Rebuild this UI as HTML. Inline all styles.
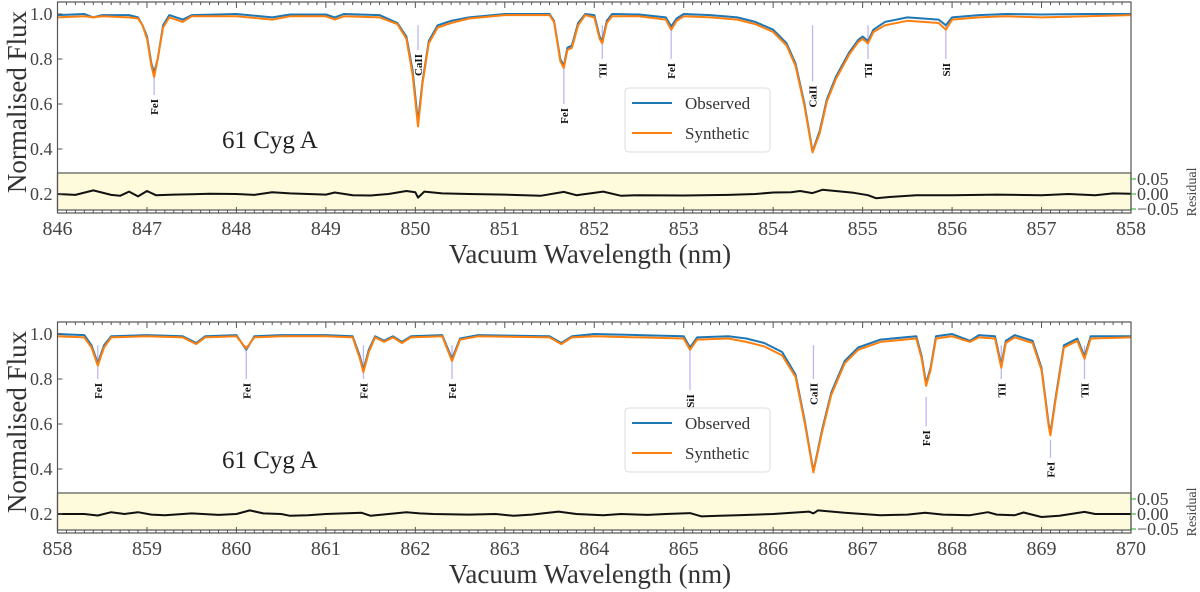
<!DOCTYPE html>
<html><head><meta charset="utf-8"><style>
html,body{margin:0;padding:0;background:#fff;}
svg{display:block;font-family:"Liberation Serif",serif;}
</style></head><body>
<svg id="fig" width="1200" height="592" viewBox="0 0 1200 592"></svg>
<script>
// ---------- data ----------
const topWl  = [846.0,846.3,846.4,846.5,846.8,846.9,846.95,847.0,847.05,847.08,847.12,847.18,847.25,847.4,847.5,848.0,848.4,848.6,849.0,849.1,849.2,849.6,849.8,849.9,849.97,850.03,850.08,850.15,850.25,850.4,850.6,851.0,851.5,851.55,851.62,851.66,851.7,851.75,851.82,851.9,852.0,852.06,852.09,852.14,852.2,852.5,852.8,852.86,852.92,853.0,853.3,853.6,853.8,854.0,854.15,854.25,854.35,854.44,854.52,854.6,854.7,854.85,854.95,855.0,855.06,855.12,855.25,855.5,855.85,855.93,856.0,856.3,856.6,857.0,857.5,858.0];
const topObs = [0.995,1.0,0.985,0.995,0.995,0.985,0.95,0.9,0.78,0.74,0.8,0.95,0.995,0.975,0.995,1.0,0.985,0.998,0.998,0.985,1.0,0.995,0.96,0.9,0.75,0.52,0.7,0.88,0.95,0.97,0.985,1.0,1.0,0.97,0.8,0.77,0.85,0.86,0.96,1.0,0.995,0.9,0.88,0.97,1.0,0.998,0.985,0.945,0.98,1.0,0.995,0.985,0.965,0.93,0.87,0.78,0.6,0.39,0.48,0.62,0.72,0.83,0.885,0.9,0.88,0.93,0.965,0.985,0.975,0.95,0.985,0.995,1.0,0.998,1.0,1.0];
const topSyn = [0.985,0.99,0.985,0.99,0.985,0.98,0.95,0.89,0.77,0.72,0.8,0.94,0.985,0.965,0.99,0.99,0.975,0.99,0.99,0.975,0.99,0.985,0.955,0.89,0.73,0.5,0.69,0.87,0.94,0.96,0.98,0.995,0.995,0.965,0.79,0.76,0.84,0.85,0.95,0.995,0.985,0.89,0.87,0.96,0.99,0.99,0.975,0.93,0.97,0.99,0.985,0.975,0.955,0.92,0.86,0.77,0.59,0.385,0.47,0.61,0.71,0.82,0.875,0.89,0.87,0.92,0.95,0.97,0.96,0.93,0.975,0.985,0.99,0.985,0.99,0.995];
const topResWl = [846.0,846.2,846.4,846.6,846.7,846.8,846.9,847.0,847.1,847.3,847.5,847.7,848.0,848.2,848.4,848.6,848.8,849.0,849.1,849.3,849.5,849.7,849.9,850.0,850.03,850.1,850.3,850.6,851.0,851.4,851.66,851.8,852.1,852.3,852.5,853.0,853.5,853.8,854.0,854.2,854.3,854.44,854.55,854.9,855.06,855.15,855.3,855.6,856.0,856.5,857.0,857.3,857.6,857.8,858.0];
const topRes = [0.0,-0.003,0.012,-0.003,-0.006,0.008,-0.008,0.01,-0.004,-0.002,-0.001,0.001,0.0,-0.003,0.006,0.002,0.0,-0.002,0.005,-0.004,-0.005,0.0,0.01,0.006,-0.012,0.008,0.002,0.0,-0.002,-0.006,0.007,-0.004,0.008,-0.006,-0.004,-0.005,-0.003,0.0,0.005,0.006,0.01,0.003,0.014,0.004,-0.004,-0.014,-0.01,-0.004,-0.004,-0.002,-0.004,0.0,-0.004,0.002,0.001];
const botWl  = [858.0,858.3,858.38,858.45,858.52,858.6,859.0,859.4,859.55,859.65,860.0,860.11,860.2,860.5,861.0,861.3,861.38,861.42,861.48,861.55,861.65,861.75,861.85,861.95,862.3,862.41,862.5,862.7,863.5,863.63,863.75,864.0,864.5,865.0,865.07,865.15,865.5,865.7,865.9,866.1,866.25,866.35,866.45,866.55,866.65,866.8,866.95,867.2,867.6,867.66,867.71,867.76,867.82,868.0,868.2,868.3,868.48,868.55,868.6,868.7,868.9,869.0,869.08,869.1,869.15,869.25,869.4,869.48,869.55,870.0];
const botObs = [1.0,0.995,0.95,0.87,0.95,0.99,0.995,0.99,0.96,0.99,0.995,0.93,0.99,0.995,0.995,0.99,0.9,0.84,0.93,0.99,0.97,0.99,0.965,0.99,0.995,0.89,0.98,0.995,0.99,0.96,0.99,1.0,0.995,0.99,0.94,0.985,0.99,0.98,0.96,0.92,0.82,0.62,0.39,0.58,0.74,0.88,0.94,0.975,0.99,0.9,0.78,0.85,0.99,1.0,0.97,0.995,0.99,0.86,0.97,0.995,0.97,0.85,0.6,0.56,0.7,0.95,0.98,0.9,0.99,0.99];
const botSyn = [0.99,0.985,0.94,0.86,0.94,0.985,0.99,0.985,0.955,0.985,0.99,0.935,0.985,0.99,0.99,0.985,0.89,0.83,0.92,0.985,0.965,0.985,0.96,0.985,0.99,0.88,0.975,0.99,0.985,0.955,0.985,0.99,0.985,0.98,0.93,0.975,0.98,0.965,0.945,0.905,0.81,0.61,0.385,0.57,0.73,0.87,0.93,0.965,0.98,0.89,0.77,0.84,0.98,0.99,0.965,0.985,0.98,0.85,0.96,0.985,0.96,0.84,0.59,0.55,0.69,0.94,0.97,0.89,0.98,0.985];
const botResWl = [858.0,858.3,858.45,858.6,858.75,858.9,859.05,859.2,859.5,859.8,860.0,860.15,860.3,860.5,860.6,860.8,861.0,861.2,861.4,861.5,861.7,861.9,862.05,862.2,862.6,862.9,863.1,863.3,863.6,863.8,864.1,864.3,864.6,864.8,865.07,865.2,865.4,865.6,866.0,866.4,866.45,866.5,866.8,867.2,867.5,867.7,867.9,868.2,868.4,868.5,868.7,868.8,869.0,869.2,869.48,869.6,870.0];
const botRes = [0.0,0.0,-0.005,0.006,0.0,0.006,-0.002,-0.004,0.002,-0.003,0.0,0.012,0.002,0.0,-0.006,-0.004,0.0,0.002,0.004,-0.006,0.0,0.006,0.002,0.0,-0.002,0.0,-0.006,-0.002,0.008,0.0,-0.004,0.0,-0.003,0.0,0.003,-0.008,-0.006,-0.004,0.0,0.008,0.002,0.012,0.004,-0.004,-0.002,0.004,-0.002,-0.004,0.006,-0.002,-0.004,0.005,-0.01,-0.006,0.007,0.0,0.0];
const topLines = ["FeI","CaII","FeI","TiI","FeI","CaII","TiI","SiI"];
const topLineWl = [847.08,850.03,851.66,852.09,852.86,854.44,855.06,855.93];
const topLineTop = [0.72,0.95,0.76,0.95,0.93,0.95,0.95,0.95];
const topLineBot = [0.64,0.84,0.6,0.8,0.8,0.7,0.8,0.8];
const botLines = ["FeI","FeI","FeI","FeI","SiI","CaII","FeI","TiI","FeI","TiI"];
const botLineWl = [858.45,860.11,861.42,862.41,865.07,866.45,867.71,868.55,869.10,869.48];
const botLineTop = [0.95,0.95,0.95,0.95,0.95,0.95,0.72,0.95,0.53,0.95];
const botLineBot = [0.8,0.8,0.8,0.8,0.75,0.8,0.59,0.8,0.45,0.8];
const yTicks = [0.2,0.4,0.6,0.8,1.0];
const resTicks = [0.05,0.0,-0.05];
// ---------- drawing ----------
const NS="http://www.w3.org/2000/svg";
const svg=document.getElementById('fig');
function mk(tag,attrs,parent){const e=document.createElementNS(NS,tag);for(const k in attrs)e.setAttribute(k,attrs[k]);(parent||svg).appendChild(e);return e;}
function panel(cfg){
  const L=57.5,R=1131,T=cfg.off+2,B=cfg.off+213;
  const x=w=>L+(w-cfg.x0)/(cfg.x1-cfg.x0)*(R-L);
  const y=v=>cfg.off+14+(1-v)*225;
  const yr=r=>cfg.off+194-r*300;
  const g=mk('g',{});
  
  
  const band=mk('rect',{x:L,y:cfg.off+173,width:R-L,height:37,fill:'#fdfbdb',stroke:'#555','stroke-width':1.2},g);
  
  
  cfg.lines.forEach((nm,i)=>{
    const lx=x(cfg.lineWl[i]);
    const ln=mk('line',{x1:lx,x2:lx,y1:y(cfg.lineTop[i]),y2:y(cfg.lineBot[i]),stroke:'#b8b8f5','stroke-width':1.3},g);
    
    
    const ty=y(cfg.lineBot[i])+4;
    const t=mk('text',{x:0,y:0,transform:`translate(${lx+4},${ty}) rotate(-90)`,'text-anchor':'end','font-size':11,'font-weight':'bold',fill:'#111'},g);
    t.textContent=nm;
    
    
  });
  function path(ws,vs,fy,col,w,name){
    let d='';ws.forEach((wv,i)=>{d+=(i?'L':'M')+x(wv).toFixed(1)+','+fy(vs[i]).toFixed(1);});
    const p=mk('path',{d:d,fill:'none',stroke:col,'stroke-width':w,'stroke-linejoin':'round'},g);
    
    
  }
  path(cfg.wl,cfg.obs,y,'#1f77b4',2,'observed-series');
  path(cfg.wl,cfg.syn,y,'#ff7f0e',2,'synthetic-series');
  path(cfg.rwl,cfg.res,yr,'#111',2,'residual-series');
  const fr=mk('rect',{x:L,y:T,width:R-L,height:B-T,fill:'none',stroke:'#555','stroke-width':1.2},g);
  
  
  for(let k=0;k<=(cfg.x1-cfg.x0)*10;k++){
    const w=cfg.x0+k/10, xx=x(w), major=k%10===0, len=major?6:3;
    mk('line',{x1:xx,x2:xx,y1:B,y2:B-len,stroke:'#555','stroke-width':1},g);
    mk('line',{x1:xx,x2:xx,y1:T,y2:T+len,stroke:'#555','stroke-width':1},g);
    if(major){
      const t=mk('text',{x:xx,y:B+22,'text-anchor':'middle','font-size':20,fill:'#444'},g);
      t.textContent=Math.round(w);
      
      
    }
  }
  yTicks.forEach(v=>{
    const yy=y(v);
    mk('line',{x1:L,x2:L+5,y1:yy,y2:yy,stroke:'#555','stroke-width':1},g);
    const t=mk('text',{x:L-5,y:yy+6,'text-anchor':'end','font-size':18,fill:'#444'},g);
    t.textContent=v.toFixed(1);
    
    
  });
  resTicks.forEach(r=>{
    const yy=yr(r);
    mk('line',{x1:R,x2:R+5,y1:yy,y2:yy,stroke:'#2a2','stroke-width':1},g);
    const t=mk('text',{x:R+6,y:yy+6,'font-size':18,fill:'#444'},g);
    t.textContent=(r<0?'\u22120.05':r.toFixed(2));
    
    
  });
  const rl=mk('text',{x:0,y:0,transform:`translate(1196,${cfg.off+192}) rotate(-90)`,'text-anchor':'middle','font-size':14,fill:'#444'},g);
  rl.textContent='Residual';
  
  
  const yl=mk('text',{x:0,y:0,transform:`translate(26,${cfg.off+102}) rotate(-90)`,'text-anchor':'middle','font-size':27,fill:'#333'},g);
  yl.textContent='Normalised Flux';
  
  
  const xl=mk('text',{x:590,y:cfg.off+263,'text-anchor':'middle','font-size':27,fill:'#333'},g);
  xl.textContent='Vacuum Wavelength (nm)';
  
  
  const st=mk('text',{x:222,y:cfg.off+148,'font-size':25,fill:'#222'},g);
  st.textContent='61 Cyg A';
  
  
  const lg=mk('g',{},g);
  
  
  mk('rect',{x:625,y:cfg.off+88,width:145,height:64,rx:4,fill:'#fff',stroke:'#ddd','stroke-width':1},lg);
  [['Observed','#1f77b4',cfg.off+103],['Synthetic','#ff7f0e',cfg.off+133]].forEach(e=>{
    mk('line',{x1:632,x2:672,y1:e[2],y2:e[2],stroke:e[1],'stroke-width':2},lg);
    const t=mk('text',{x:685,y:e[2]+6,'font-size':17,fill:'#333'},lg);
    t.textContent=e[0];
    
    
  });
}
panel({name:'top-panel',off:0,x0:846,x1:858,wl:topWl,obs:topObs,syn:topSyn,rwl:topResWl,res:topRes,lines:topLines,lineWl:topLineWl,lineTop:topLineTop,lineBot:topLineBot});
panel({name:'bottom-panel',off:320,x0:858,x1:870,wl:botWl,obs:botObs,syn:botSyn,rwl:botResWl,res:botRes,lines:botLines,lineWl:botLineWl,lineTop:botLineTop,lineBot:botLineBot});
</script>
</body></html>
